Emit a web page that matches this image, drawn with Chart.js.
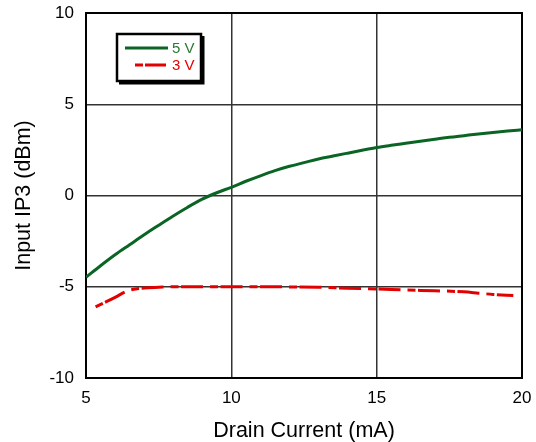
<!DOCTYPE html>
<html>
<head>
<meta charset="utf-8">
<script src="https://cdn.jsdelivr.net/npm/chart.js@4.4.0/dist/chart.umd.min.js"></script>
<style>
html,body{margin:0;padding:0;background:#fff;}
#c{display:block;}
</style>
</head>
<body>
<canvas id="c" width="536" height="442"></canvas>
<script>
// ---- data ----
const current5V = [5, 5.5, 6, 6.5, 7, 7.5, 8, 8.5, 9, 9.5, 10, 10.5, 11, 11.5, 12, 12.5, 13, 13.5, 14, 14.5, 15, 15.5, 16, 16.5, 17, 17.5, 18, 18.5, 19, 19.5, 20];
const ip3_5V = [-4.48, -3.85, -3.25, -2.7, -2.15, -1.63, -1.12, -0.64, -0.2, 0.15, 0.45, 0.78, 1.08, 1.36, 1.6, 1.8, 2.0, 2.16, 2.32, 2.48, 2.63, 2.75, 2.86, 2.97, 3.08, 3.19, 3.28, 3.37, 3.45, 3.53, 3.6];
const current3V = [5.33, 5.7, 6.0, 6.33, 6.6, 7, 7.5, 8, 9, 10, 11, 12, 13, 14, 15, 16, 17, 18, 18.5, 19, 19.7];
const ip3_3V = [-6.1, -5.82, -5.58, -5.3, -5.15, -5.07, -5.03, -5.0, -5.0, -5.0, -5.0, -5.01, -5.03, -5.08, -5.12, -5.18, -5.22, -5.28, -5.35, -5.42, -5.48];
const seriesLabels = ['5 V', '3 V'];
const xTicks = [5, 10, 15, 20];
const yTicks = [-10, -5, 0, 5, 10];
const xTitle = 'Drain Current (mA)';
const yTitle = 'Input IP3 (dBm)';

const GREEN = '#0a6424';
const GREEN_TEXT = '#2a7a34';
const RED = '#e30000';
const DASH = [8, 2.5, 22, 7];
const FONT = '"Liberation Sans", Arial, sans-serif';

const toPts = (xs, ys) => xs.map((x, i) => ({x: x, y: ys[i]}));

const frame = {
  id: 'frame',
  beforeDatasetsDraw(chart) {
    const {ctx, chartArea: a} = chart;
    ctx.save();
    ctx.strokeStyle = '#000';
    ctx.lineWidth = 2;
    ctx.strokeRect(a.left, a.top, a.right - a.left, a.bottom - a.top);
    ctx.restore();
  }
};

const boxLegend = {
  id: 'boxLegend',
  afterDraw(chart) {
    const ctx = chart.ctx;
    const ds = chart.data.datasets;
    const bx = 117, by = 34, bw = 84, bh = 47;
    ctx.save();
    ctx.fillStyle = '#000';
    ctx.fillRect(bx + 2, by + 2, bw + 1.5, bh + 1.5);
    ctx.fillStyle = '#fff';
    ctx.fillRect(bx, by, bw, bh);
    ctx.strokeStyle = '#000';
    ctx.lineWidth = 2.5;
    ctx.strokeRect(bx, by, bw, bh);
    const rows = [
      {y: 48, x0: 125, x1: 168, color: ds[0].borderColor, dash: [], text: ds[0].label, tc: GREEN_TEXT},
      {y: 65, x0: 135, x1: 167, color: ds[1].borderColor, dash: [8, 2, 21, 7], text: ds[1].label, tc: RED}
    ];
    rows.forEach(r => {
      ctx.beginPath();
      ctx.setLineDash(r.dash);
      ctx.strokeStyle = r.color;
      ctx.lineWidth = 3;
      ctx.moveTo(r.x0, r.y);
      ctx.lineTo(r.x1, r.y);
      ctx.stroke();
      ctx.setLineDash([]);
      ctx.fillStyle = r.tc;
      ctx.font = '15px ' + FONT;
      ctx.textAlign = 'left';
      ctx.textBaseline = 'middle';
      ctx.fillText(r.text, 172, r.y + 1);
    });
    ctx.restore();
  }
};

new Chart(document.getElementById('c'), {
  type: 'scatter',
  data: {
    datasets: [
      {
        label: seriesLabels[0],
        data: toPts(current5V, ip3_5V),
        showLine: true,
        borderColor: GREEN,
        borderWidth: 3,
        pointRadius: 0,
        cubicInterpolationMode: 'monotone',
        fill: false
      },
      {
        label: seriesLabels[1],
        data: toPts(current3V, ip3_3V),
        showLine: true,
        borderColor: RED,
        borderWidth: 3,
        borderDash: DASH,
        pointRadius: 0,
        cubicInterpolationMode: 'monotone',
        fill: false
      }
    ]
  },
  options: {
    responsive: false,
    animation: false,
    devicePixelRatio: 1,
    layout: {padding: {left: 0, right: 14, top: 13, bottom: 0}},
    plugins: {legend: {display: false}, tooltip: {enabled: false}},
    scales: {
      x: {
        type: 'linear',
        min: xTicks[0],
        max: xTicks[xTicks.length - 1],
        afterBuildTicks: s => { s.ticks = xTicks.map(v => ({value: v})); },
        afterFit: s => { s.height = 64; s.paddingLeft = 0; s.paddingRight = 0; },
        ticks: {color: '#000', padding: 10, font: {family: FONT, size: 17}},
        grid: {color: '#333', lineWidth: 1.5, drawTicks: false},
        border: {display: false},
        title: {display: true, text: xTitle, color: '#000', padding: {top: 0, bottom: 0},
                font: {family: FONT, size: 21.5, lineHeight: 1}}
      },
      y: {
        type: 'linear',
        min: yTicks[0],
        max: yTicks[yTicks.length - 1],
        afterBuildTicks: s => { s.ticks = yTicks.map(v => ({value: v})); },
        afterFit: s => { s.width = 86; s.paddingTop = 0; s.paddingBottom = 0; },
        ticks: {color: '#000', padding: 12, font: {family: FONT, size: 17}},
        grid: {color: '#333', lineWidth: 1.5, drawTicks: false},
        border: {display: false},
        title: {display: true, text: yTitle, color: '#000', padding: {top: 13, bottom: 0},
                font: {family: FONT, size: 21.5, lineHeight: 1}}
      }
    }
  },
  plugins: [frame, boxLegend]
});
</script>
</body>
</html>
